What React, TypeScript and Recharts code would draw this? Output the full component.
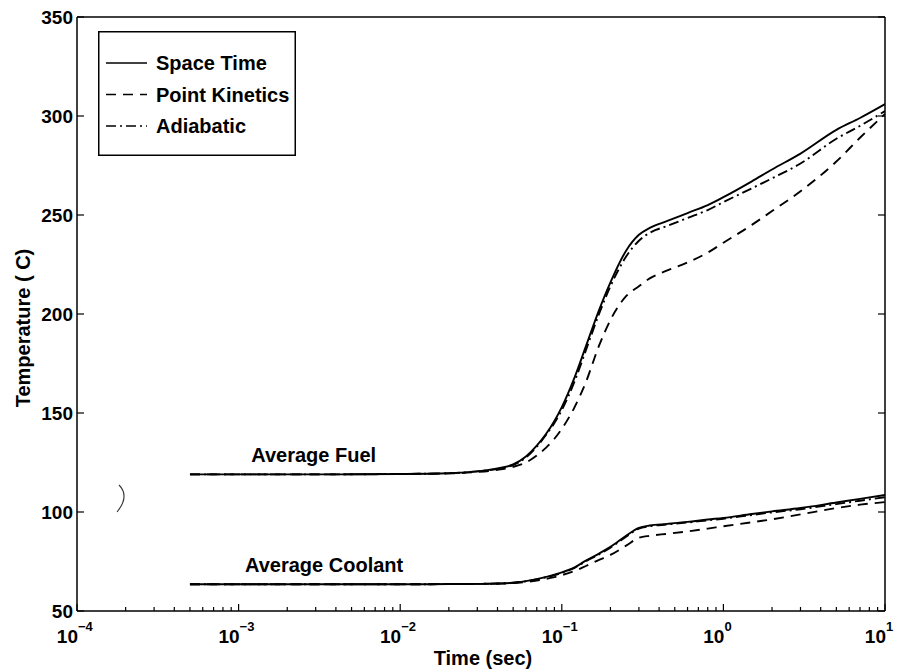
import React from 'react';
import { LineChart, Line, XAxis, YAxis, Legend, ReferenceDot } from 'recharts';

// time samples (sec), shared by every curve
const times = [5e-4, 1e-3, 3e-3, 0.01, 0.02, 0.03, 0.04, 0.05, 0.06, 0.07, 0.08, 0.09, 0.1, 0.12, 0.14, 0.17, 0.2, 0.25, 0.3, 0.35, 0.45, 0.6, 0.8, 1, 1.5, 2, 3, 5, 7, 10];

const fuelSpaceTime = [119, 119, 119, 119.2, 119.6, 120.5, 122, 124, 128, 133.5, 139.5, 146, 153, 168, 183, 202, 216, 232, 240, 243.5, 247, 251, 255, 259, 267, 273, 281, 293, 299, 306];
const fuelPointKinetics = [119, 119, 119, 119.2, 119.5, 120.2, 121.3, 122.8, 125, 128.5, 132.5, 137, 142, 153, 165, 184, 197, 209, 214, 218, 222, 226, 231, 236, 245, 252, 262, 277, 289, 301];
const fuelAdiabatic = [119, 119, 119, 119.2, 119.6, 120.5, 121.8, 123.7, 127.5, 133, 139, 145, 151.5, 166, 181, 200, 214, 229, 237, 241, 244.5, 248.5, 252.5, 256.5, 263.5, 268.5, 276, 288.5, 295, 302.5];

const coolSpaceTime = [63.5, 63.5, 63.5, 63.5, 63.6, 63.7, 63.9, 64.3, 65.1, 66.1, 67.2, 68.3, 69.5, 72, 75.3, 79, 82.4, 88, 92, 93.2, 94, 95, 96.2, 97, 99, 100.3, 102, 104.8, 106.6, 108.6];
const coolPointKinetics = [63.5, 63.5, 63.5, 63.5, 63.6, 63.7, 63.8, 64.1, 64.7, 65.4, 66.2, 67.1, 68.1, 70.2, 72.6, 75.8, 78.3, 83, 87, 88, 89, 90.2, 91.6, 92.8, 94.8, 96.3, 98.8, 102, 103.7, 105];
const coolAdiabatic = [63.5, 63.5, 63.5, 63.5, 63.6, 63.7, 63.9, 64.3, 65, 66, 67, 68.1, 69.3, 71.8, 75, 78.6, 82, 87.5, 91.6, 92.8, 93.7, 94.7, 95.8, 96.6, 98.5, 99.8, 101.4, 104, 105.7, 107.5];

const xMajorTicks = [1e-4, 1e-3, 1e-2, 1e-1, 1, 10];
const xTickExponents = ['\u22124', '\u22123', '\u22122', '\u22121', '0', '1'];
const xMinorMultipliers = [2, 3, 4, 5, 6, 7, 8, 9];
const yTicks = [50, 100, 150, 200, 250, 300, 350];

const legendNames = ['Space Time', 'Point Kinetics', 'Adiabatic'];
const legendDashes = ['', '10 7', '10 4 2 4'];

const annoLabels = ['Average Fuel', 'Average Coolant'];
const annoX = [1.18e-3, 1.08e-3];
const annoY = [128.8, 73.3];

const data = times.map((t, i) => ({
  t,
  fuelST: fuelSpaceTime[i],
  fuelPK: fuelPointKinetics[i],
  fuelAD: fuelAdiabatic[i],
  coolST: coolSpaceTime[i],
  coolPK: coolPointKinetics[i],
  coolAD: coolAdiabatic[i],
}));

const xAllTicks: number[] = [];
xMajorTicks.forEach((m, i) => {
  xAllTicks.push(m);
  if (i < xMajorTicks.length - 1) xMinorMultipliers.forEach((k) => xAllTicks.push(k * m));
});

const FONT = '"Liberation Sans", Arial, Helvetica, sans-serif';

function majorIndex(v: number) {
  return xMajorTicks.findIndex((m) => Math.abs(Math.log10(m) - Math.log10(v)) < 1e-6);
}

const XTick = (props: any) => {
  const { x, y, payload, side } = props;
  const idx = majorIndex(payload.value);
  const len = idx >= 0 ? 7 : 4;
  const dir = side === 'bottom' ? -1 : 1;
  return (
    <g>
      <line x1={x} y1={y} x2={x} y2={y + dir * len} stroke="#000" strokeWidth={1.2} />
      {side === 'bottom' && idx >= 0 && (
        <g fontFamily={FONT} fontWeight="bold" fill="#000">
          <text x={x + 1} y={y + 32} textAnchor="end" fontSize={19}>10</text>
          <text x={x + 1} y={y + 20} textAnchor="start" fontSize={13}>{xTickExponents[idx]}</text>
        </g>
      )}
    </g>
  );
};

const YTick = (props: any) => {
  const { x, y, payload, side } = props;
  const dir = side === 'left' ? 1 : -1;
  return (
    <g>
      <line x1={x} y1={y} x2={x + dir * 7} y2={y} stroke="#000" strokeWidth={1.2} />
      {side === 'left' && (
        <text x={x - 4} y={y + 7} textAnchor="end" fontSize={19} fontFamily={FONT} fontWeight="bold" fill="#000">
          {payload.value}
        </text>
      )}
    </g>
  );
};

const renderLegend = () => (
  <svg width={198} height={125}>
    <rect x={0.75} y={0.75} width={196.5} height={123.5} fill="#fff" stroke="#000" strokeWidth={1.5} />
    {legendNames.map((n, i) => (
      <g key={n}>
        <line x1={8} x2={49} y1={32 + i * 31.5} y2={32 + i * 31.5} stroke="#000" strokeWidth={1.6} strokeDasharray={legendDashes[i]} />
        <text x={58} y={32 + i * 31.5} dy="0.36em" fontSize={20} fontFamily={FONT} fontWeight="bold" fill="#000">
          {n}
        </text>
      </g>
    ))}
  </svg>
);

const lineKeys = ['fuelST', 'fuelPK', 'fuelAD', 'coolST', 'coolPK', 'coolAD'];

export default function App() {
  return (
    <div style={{ position: 'absolute', left: 0, top: 0, width: 901, height: 671, background: '#fff' }}>
      <LineChart width={901} height={671} data={data} margin={{ top: 16, right: 15, bottom: 59, left: 76 }}>
        <XAxis
          dataKey="t"
          type="number"
          scale="log"
          domain={[1e-4, 10]}
          allowDataOverflow
          ticks={xAllTicks}
          interval={0}
          height={1}
          tickSize={0}
          tickMargin={0}
          tickLine={false}
          axisLine={{ stroke: '#000', strokeWidth: 1.5 }}
          tick={(p: any) => <XTick {...p} side="bottom" />}
          label={(p: any) => {
            const vb = p.viewBox;
            return (
              <text x={vb.x + vb.width / 2 + 2} y={vb.y + 54} textAnchor="middle" fontSize={20} fontFamily={FONT} fontWeight="bold" fill="#000">
                Time (sec)
              </text>
            );
          }}
        />
        <XAxis
          xAxisId="top"
          orientation="top"
          type="number"
          scale="log"
          domain={[1e-4, 10]}
          allowDataOverflow
          ticks={xAllTicks}
          interval={0}
          height={1}
          tickSize={0}
          tickMargin={0}
          tickLine={false}
          axisLine={{ stroke: '#000', strokeWidth: 1.5 }}
          tick={(p: any) => <XTick {...p} side="top" />}
        />
        <YAxis
          type="number"
          domain={[50, 350]}
          allowDataOverflow
          ticks={yTicks}
          interval={0}
          width={1}
          tickSize={0}
          tickMargin={0}
          tickLine={false}
          axisLine={{ stroke: '#000', strokeWidth: 1.5 }}
          tick={(p: any) => <YTick {...p} side="left" />}
          label={(p: any) => {
            const vb = p.viewBox;
            const cx = vb.x - 53;
            const cy = vb.y + vb.height / 2 + 14;
            return (
              <text x={cx} y={cy} transform={`rotate(-90 ${cx} ${cy})`} textAnchor="middle" dy="0.36em" fontSize={20} fontFamily={FONT} fontWeight="bold" fill="#000">
                Temperature ( C)
              </text>
            );
          }}
        />
        <YAxis
          yAxisId="right"
          orientation="right"
          type="number"
          domain={[50, 350]}
          allowDataOverflow
          ticks={yTicks}
          interval={0}
          width={1}
          tickSize={0}
          tickMargin={0}
          tickLine={false}
          axisLine={{ stroke: '#000', strokeWidth: 1.5 }}
          tick={(p: any) => <YTick {...p} side="right" />}
        />
        <Legend
          layout="vertical"
          align="center"
          verticalAlign="middle"
          wrapperStyle={{ left: 98, top: 31, width: 198, height: 125 }}
          content={renderLegend}
        />
        {lineKeys.map((k, i) => (
          <Line
            key={k}
            dataKey={k}
            type="monotone"
            stroke="#000"
            strokeWidth={1.9}
            strokeDasharray={legendDashes[i % 3]}
            dot={false}
            activeDot={false}
            legendType="none"
            isAnimationActive={false}
          />
        ))}
        {annoLabels.map((a, i) => (
          <ReferenceDot
            key={a}
            x={annoX[i]}
            y={annoY[i]}
            r={1}
            fill="none"
            stroke="none"
            label={{ value: a, position: 'right', offset: 0, fontSize: 20, fontFamily: FONT, fontWeight: 'bold', fill: '#000' }}
          />
        ))}
      </LineChart>
      {/* small stray pen mark from the scanned original */}
      <svg style={{ position: 'absolute', left: 110, top: 480 }} width={24} height={40}>
        <path d="M 9 5 Q 20 16 7 32" fill="none" stroke="#333" strokeWidth={1.1} />
      </svg>
    </div>
  );
}
